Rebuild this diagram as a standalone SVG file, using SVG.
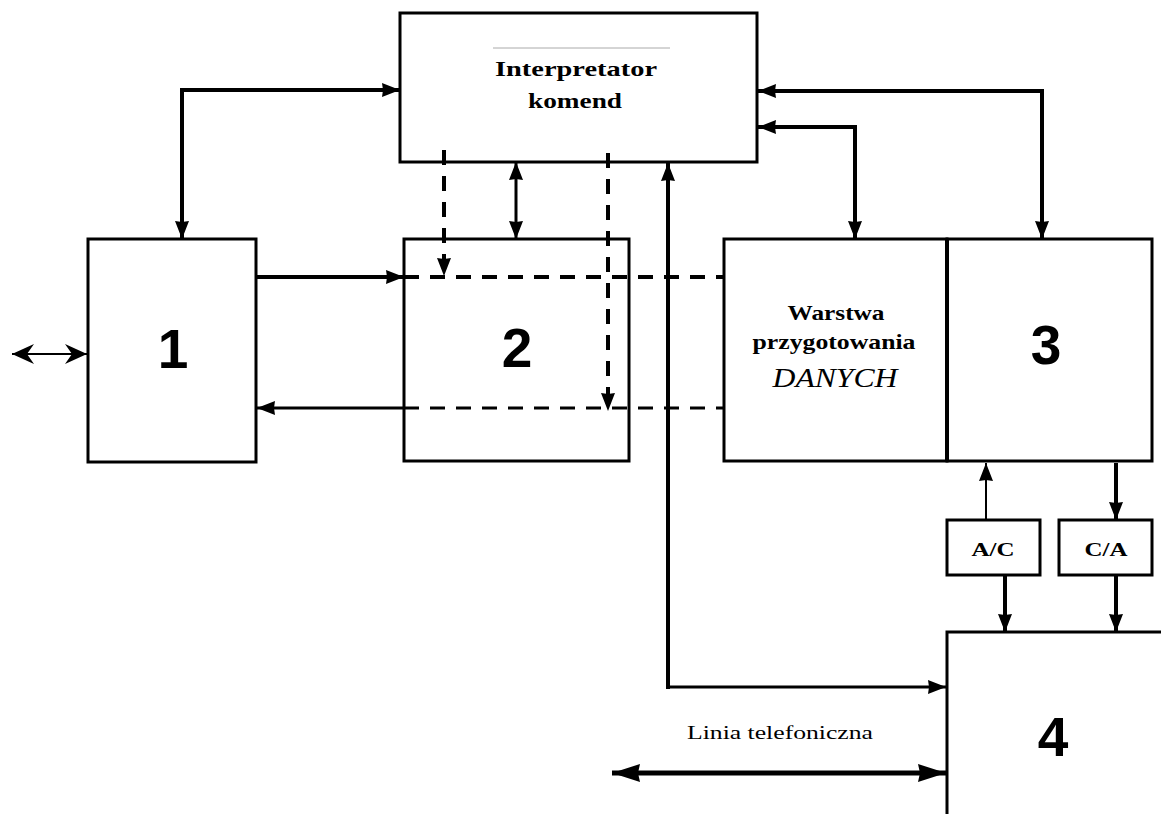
<svg xmlns="http://www.w3.org/2000/svg" width="1161" height="814" viewBox="0 0 1161 814">
<defs>
<style>
.box{fill:#fff;stroke:#000;stroke-width:3}
.ln{fill:none;stroke:#000;stroke-linejoin:miter}
.dash{stroke-dasharray:15 11}
.digit{font-family:"Liberation Sans",Arial,sans-serif;font-weight:bold;font-size:55px;text-anchor:middle;fill:#000}
.lbl{font-family:"Liberation Serif","Times New Roman",serif;font-weight:bold;text-anchor:middle;fill:#000}
.ah{marker-end:url(#ah)}
.ah2{marker-start:url(#ah);marker-end:url(#ah)}
</style>
<marker id="ah" viewBox="0 0 18 14" refX="18" refY="7" markerWidth="18" markerHeight="14" markerUnits="userSpaceOnUse" orient="auto-start-reverse"><path d="M0,0 L18,7 L0,14 L1,7 z" fill="#000"/></marker>
<marker id="ahL" viewBox="0 0 28 18" refX="28" refY="9" markerWidth="28" markerHeight="18" markerUnits="userSpaceOnUse" orient="auto-start-reverse"><path d="M0,0 L28,9 L0,18 L2,9 z" fill="#000"/></marker>
<marker id="chev" viewBox="0 0 22 20" refX="22" refY="10" markerWidth="22" markerHeight="20" markerUnits="userSpaceOnUse" orient="auto-start-reverse"><path d="M0,0 L22,10 L0,20 L7,10 z" fill="#000"/></marker>
</defs>
<rect width="1161" height="814" fill="#fff"/>

<g id="interpretator">
<rect class="box" x="400" y="13" width="357" height="149"/>
<line x1="493" y1="48" x2="670" y2="48" stroke="#aaa" stroke-width="1"/>
<text class="lbl" x="576" y="76" font-size="22" textLength="162" lengthAdjust="spacingAndGlyphs">Interpretator</text>
<text class="lbl" x="575" y="108" font-size="22" textLength="94" lengthAdjust="spacingAndGlyphs">komend</text>
</g>

<g id="node1">
<rect class="box" x="88" y="239" width="168" height="223"/>
<text class="digit" x="173" y="368">1</text>
</g>

<g id="node2">
<rect class="box" x="404" y="239" width="225" height="222"/>
<text class="digit" x="517" y="367">2</text>
</g>

<g id="warstwa">
<rect class="box" x="724" y="239" width="223" height="222"/>
<text class="lbl" x="836" y="320" font-size="21" textLength="97" lengthAdjust="spacingAndGlyphs">Warstwa</text>
<text class="lbl" x="834" y="349" font-size="21" textLength="163" lengthAdjust="spacingAndGlyphs">przygotowania</text>
<text x="835" y="387" font-family="'Liberation Serif','Times New Roman',serif" font-style="italic" font-size="27" text-anchor="middle" textLength="125" lengthAdjust="spacingAndGlyphs">DANYCH</text>
</g>

<g id="node3">
<rect class="box" x="947" y="239" width="205" height="222"/>
<line x1="947" y1="239" x2="947" y2="461" stroke="#000" stroke-width="4"/>
<text class="digit" x="1046" y="364">3</text>
</g>

<g id="ac">
<rect class="box" x="947" y="520" width="93" height="55"/>
<text class="lbl" x="993" y="556" font-size="19" textLength="43" lengthAdjust="spacingAndGlyphs">A/C</text>
</g>

<g id="ca">
<rect class="box" x="1059" y="520" width="93" height="55"/>
<text class="lbl" x="1106" y="556" font-size="19" textLength="43" lengthAdjust="spacingAndGlyphs">C/A</text>
</g>

<g id="node4">
<rect class="box" x="947" y="632" width="240" height="200"/>
<text class="digit" x="1053" y="756">4</text>
</g>

<g id="connectors">
<path class="ln ah2" d="M182,239 V90 H400" stroke-width="4"/>
<path class="ln ah2" d="M516,162 V239" stroke-width="3"/>
<path class="ln dash ah" d="M444,150 V276" stroke-width="4"/>
<path class="ln dash ah" d="M608,153 V411" stroke-width="4"/>
<path class="ln ah" d="M668,689 V163" stroke-width="4"/>
<path class="ln ah" d="M666,687 H946" stroke-width="3"/>
<path class="ln ah2" d="M1042,239 V91 H758" stroke-width="4"/>
<path class="ln ah2" d="M855,239 V127 H758" stroke-width="4"/>
<path class="ln ah" d="M256,277 H404" stroke-width="4"/>
<path class="ln dash" d="M404,277 H724" stroke-width="4"/>
<path class="ln ah" d="M404,408 H257" stroke-width="3"/>
<path class="ln dash" d="M404,408 H724" stroke-width="3"/>
<path class="ln" d="M12,354 H87" stroke-width="2" marker-start="url(#chev)" marker-end="url(#chev)"/>
<path class="ln ah" d="M986,520 V463" stroke-width="2"/>
<path class="ln ah" d="M1116,463 V520" stroke-width="4"/>
<path class="ln ah" d="M1005,575 V632" stroke-width="4"/>
<path class="ln ah" d="M1116,575 V632" stroke-width="4"/>
<path class="ln" d="M612,773 H946" stroke-width="5" marker-start="url(#ahL)" marker-end="url(#ahL)"/>
</g>

<text x="780" y="739" font-family="'Liberation Serif','Times New Roman',serif" font-size="18" text-anchor="middle" textLength="186" lengthAdjust="spacingAndGlyphs">Linia telefoniczna</text>
</svg>
